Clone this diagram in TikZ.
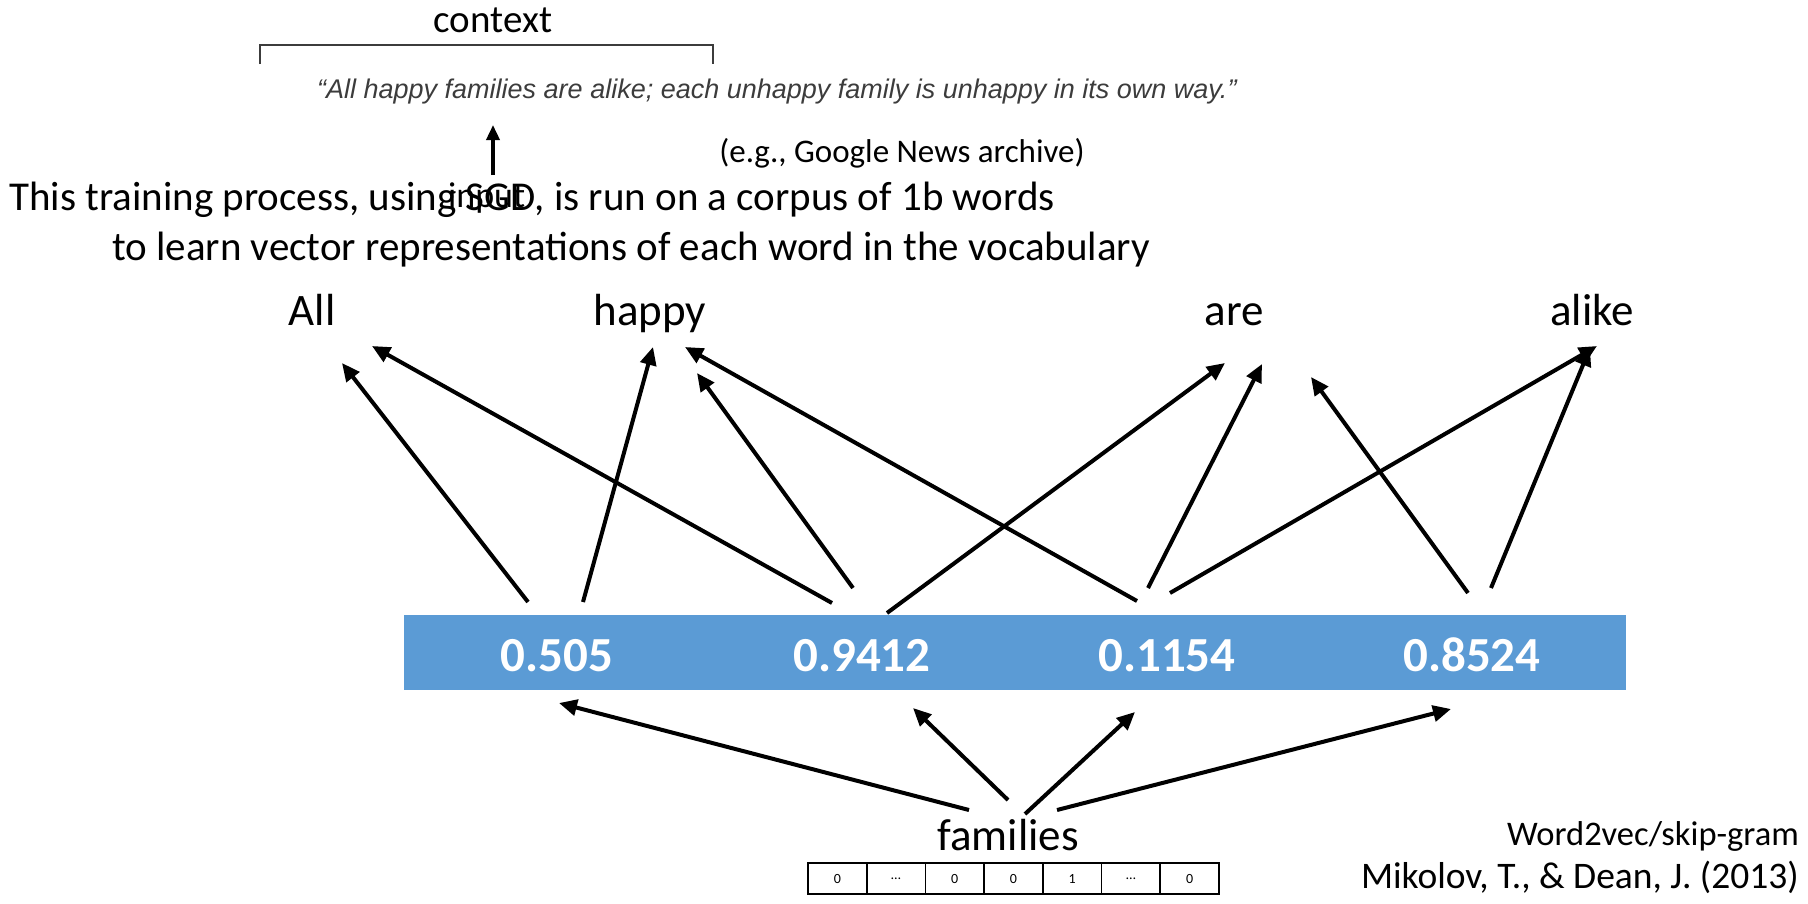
\documentclass[tikz,border=0pt]{standalone}
\usepackage{fontspec}
\setmainfont{Carlito}
\newfontfamily\quotefont{Liberation Sans}
\usetikzlibrary{arrows.meta}
\definecolor{barblue}{RGB}{91,155,213}
\definecolor{quotegray}{RGB}{60,60,60}

\begin{document}
\begin{tikzpicture}[x=1pt,y=-1pt,
  word/.style={font=\fontsize{45}{54}\selectfont, inner sep=0, anchor=base},
  val/.style={font=\fontsize{49}{58}\selectfont\bfseries, text=white, inner sep=0, anchor=base},
  note/.style={font=\fontsize{41}{49}\selectfont, inner sep=0, anchor=base},
  link/.style={line width=4pt, -{Triangle[length=18pt,width=16pt]}},
  cell/.style={draw, line width=1.6pt, minimum width=58.7pt, minimum height=31pt,
    inner sep=0, font=\fontsize{14}{16}\selectfont},
]
\useasboundingbox (0,0) rectangle (1808,903);

% sentence with its context bracket
\node[font=\fontsize{39}{46}\selectfont, inner sep=0, anchor=base] (ctx) at (493,32) {context};
\draw[quotegray, line width=1.3pt] (260,64) -- (260,45) -- (713,45) -- (713,64);
\node[font=\quotefont\itshape\fontsize{27}{32}\selectfont, text=quotegray, inner sep=0, anchor=base west]
  (quote) at (317,98) {“All happy families are alike; each unhappy family is unhappy in its own way.”};

% input word pointer
\coordinate (inbot) at (493,175);
\coordinate (intop) at (493,125);
\draw[line width=3.5pt, -{Triangle[length=15pt,width=13pt]}] (inbot) -- (intop);
\node[font=\fontsize{36}{42}\selectfont, inner sep=0, anchor=base west] (inp) at (448,207) {input};

\node[font=\fontsize{33}{40}\selectfont, inner sep=0, anchor=base] (corpus) at (902,162) {(e.g., Google News archive)};
\node[note, anchor=base west] (line1) at (9,210) {This training process, using SGD, is run on a corpus of 1b words};
\node[note, anchor=base west] (line2) at (112,260) {to learn vector representations of each word in the vocabulary};

% context words
\node[word] (wall)   at (312,325) {All};
\node[word] (whappy) at (650,325) {happy};
\node[word] (ware)   at (1234,325) {are};
\node[word] (walike) at (1592,325) {alike};

% hidden vector
\node[fill=barblue, minimum width=1222pt, minimum height=75pt, inner sep=0] (bar) at (1015,652.5) {};
\node[val] (v1) at (557,671) {0.505};
\node[val] (v2) at (862,671) {0.9412};
\node[val] (v3) at (1167,671) {0.1154};
\node[val] (v4) at (1472,671) {0.8524};

% arrow end points
\coordinate (a1s) at (528,602);  \coordinate (a1e) at (342,363);
\coordinate (a2s) at (832,603);  \coordinate (a2e) at (372,346);
\coordinate (a3s) at (583,602);  \coordinate (a3e) at (653,347);
\coordinate (a4s) at (1137,601); \coordinate (a4e) at (685,347);
\coordinate (a5s) at (853,588);  \coordinate (a5e) at (697,373);
\coordinate (a6s) at (887,613);  \coordinate (a6e) at (1225,363);
\coordinate (a7s) at (1148,588); \coordinate (a7e) at (1262,364);
\coordinate (a8s) at (1170,593); \coordinate (a8e) at (1597,346);
\coordinate (a9s) at (1468,593); \coordinate (a9e) at (1311,377);
\coordinate (a10s) at (1491,588); \coordinate (a10e) at (1590,348);
\foreach \i in {1,...,10} \draw[link] (a\i s) -- (a\i e);

% input word and one-hot vector
\node[word] (fam) at (1008,850) {families};
\coordinate (b1s) at (969,810);  \coordinate (b1e) at (559,703);
\coordinate (b2s) at (1008,800); \coordinate (b2e) at (913,708);
\coordinate (b3s) at (1025,814); \coordinate (b3e) at (1135,712);
\coordinate (b4s) at (1057,810); \coordinate (b4e) at (1451,709);
\foreach \i in {1,...,4} \draw[link] (b\i s) -- (b\i e);

\foreach \t [count=\k] in {0,…,0,0,1,…,0}
  \node[cell] (c\k) at ({808+58.7*(\k-0.5)},878.5) {\t};

% reference
\node[font=\fontsize{34.5}{40}\selectfont, inner sep=0, anchor=base east] (ref1) at (1799,845) {Word2vec/skip-gram};
\node[font=\fontsize{37.5}{44}\selectfont, inner sep=0, anchor=base east] (ref2) at (1799,888) {Mikolov, T., \& Dean, J. (2013)};
\end{tikzpicture}
\end{document}
